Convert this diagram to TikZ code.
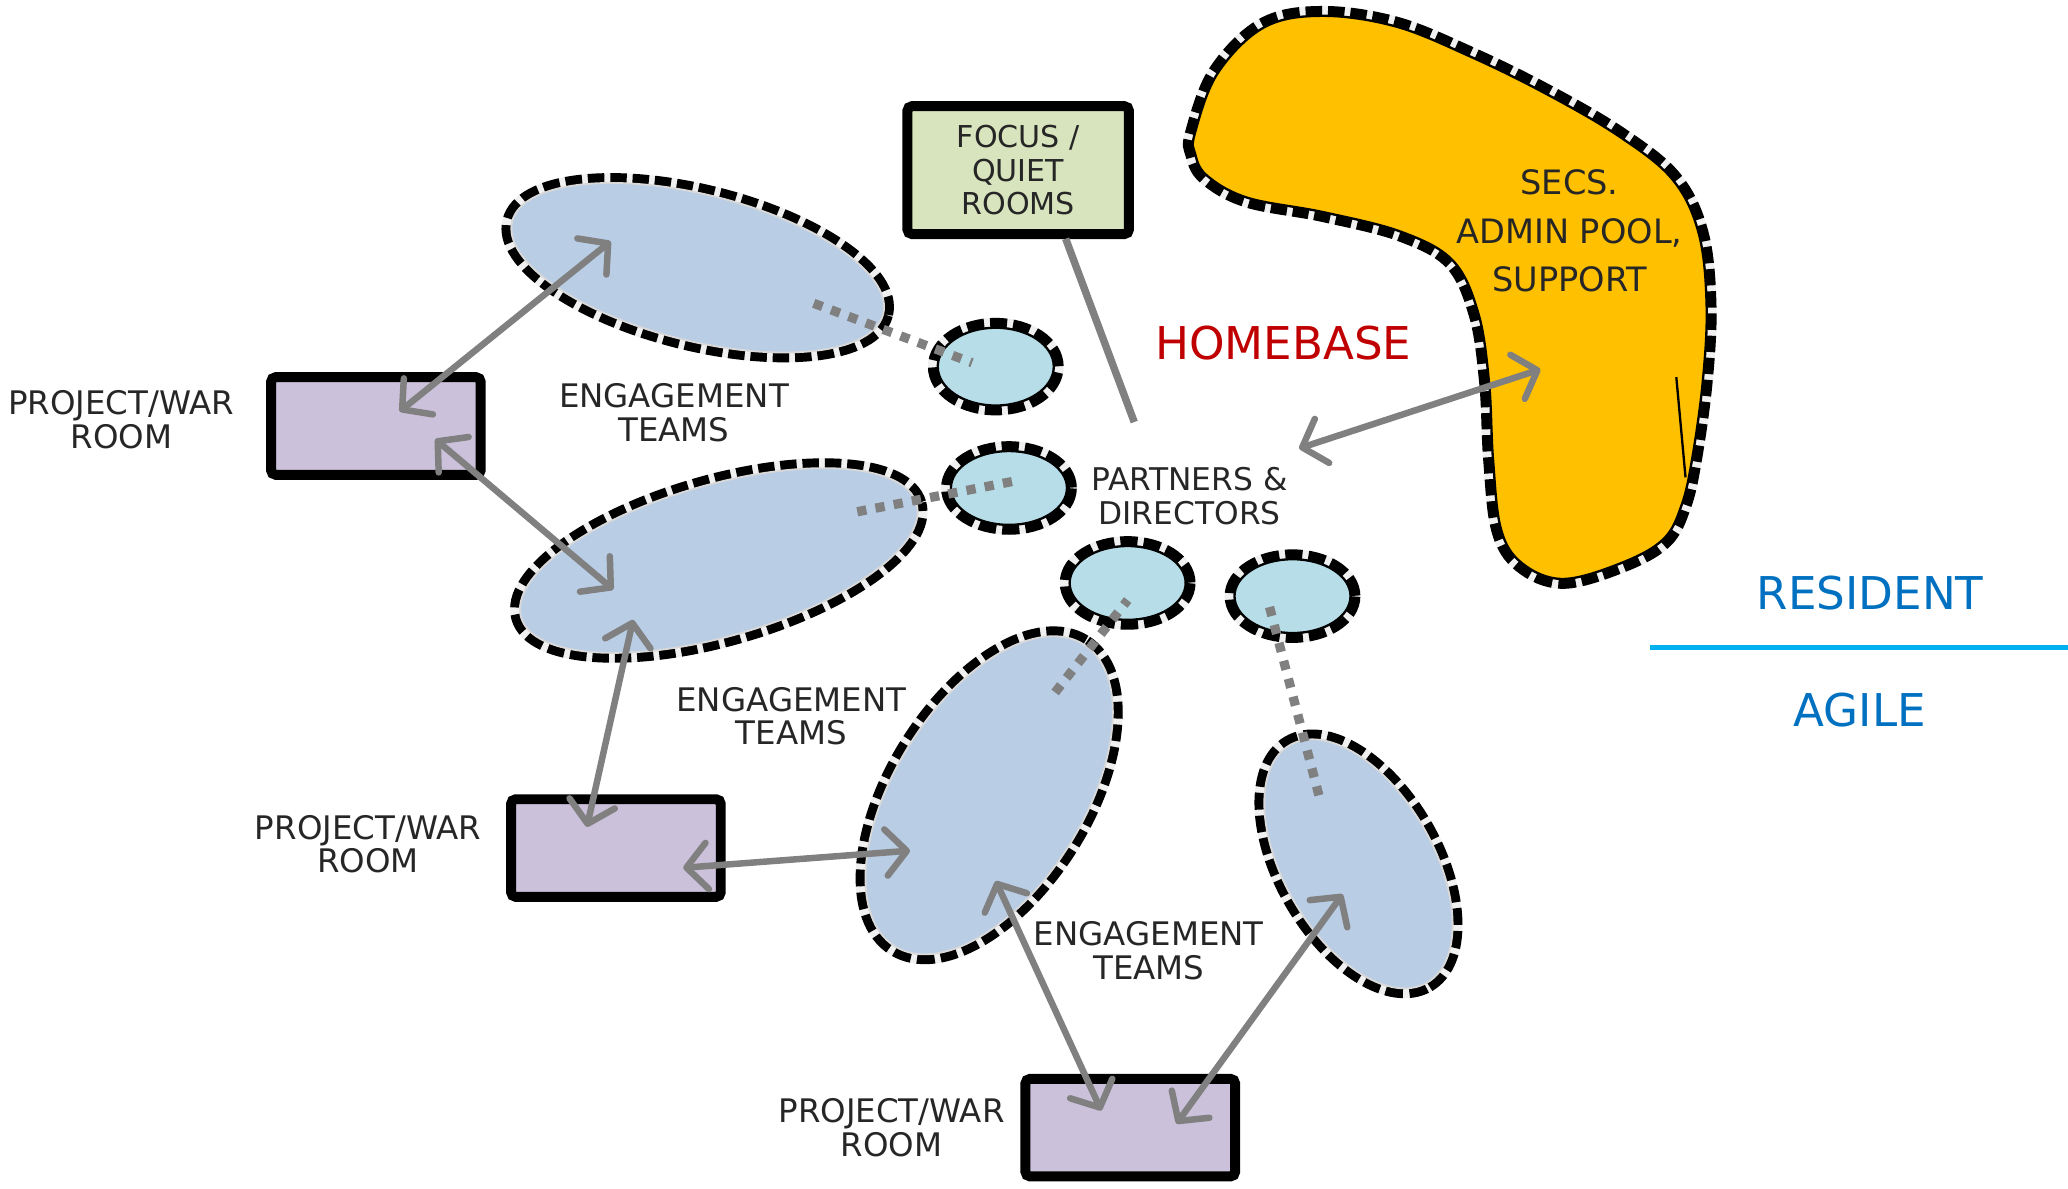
\documentclass[tikz,border=0pt]{standalone}
\usepackage{fontspec}
\setmainfont{DejaVu Sans}
\usetikzlibrary{shapes.geometric,arrows.meta,positioning}

\definecolor{teamblue}{RGB}{185,205,229}
\definecolor{partnerblue}{RGB}{183,222,232}
\definecolor{roompurple}{RGB}{204,193,218}
\definecolor{quietgreen}{RGB}{215,228,189}
\definecolor{adminyellow}{RGB}{255,192,0}
\definecolor{linkgrey}{RGB}{128,128,128}
\definecolor{homered}{RGB}{192,0,0}
\definecolor{zoneblue}{RGB}{0,112,192}
\definecolor{dividercyan}{RGB}{0,176,240}
\definecolor{inktext}{RGB}{38,38,38}

\begin{document}
\begin{tikzpicture}[
  x=0.02cm, y=-0.02cm,
  sketch/.style={preaction={draw=black!6, line width=8.5pt},
                 preaction={draw=black, line width=8.5pt, dash pattern=on 7pt off 2.5pt}},
  team/.style={ellipse, sketch, fill=teamblue, draw=black!15, line width=0.8pt, inner sep=0pt},
  partner/.style={ellipse, sketch, fill=partnerblue, draw=black, line width=1pt, inner sep=0pt,
                  minimum width=1.76cm, minimum height=1.12cm},
  warroom/.style={rectangle, rounded corners=2pt, draw=black, line width=4.3pt, fill=roompurple,
                  minimum width=3.18cm, minimum height=1.48cm},
  lbl/.style={align=center, text=inktext, font=\fontsize{14}{14.5}\selectfont},
  zone/.style={text=zoneblue, font=\fontsize{19.5}{20}\selectfont},
  link/.style={{Straight Barb[length=9pt,width=20pt,round]}-{Straight Barb[length=9pt,width=20pt,round]},
               line width=2.8pt, draw=linkgrey},
  tie/.style={draw=linkgrey, line width=4pt, dash pattern=on 4pt off 4pt},
]
\useasboundingbox (0,0) rectangle (1568,901);

%% admin pool blob
\draw[sketch, fill=adminyellow, draw=black, line width=1pt]
  plot[smooth cycle, tension=0.6] coordinates {
    (906,101) (923,56) (958,21) (1002,12) (1058,20) (1115,43) (1172,71)
    (1227,103) (1268,136) (1288,177) (1294,232) (1291,290) (1283,348)
    (1275,383) (1261,409) (1229,427) (1185,439) (1154,427) (1138,401)
    (1132,348) (1129,290) (1121,238) (1102,198) (1063,176) (1004,161)
    (946,150) (915,133) (906,116)};
\draw[line width=1pt] (1271,286) -- (1278,362);
\node[lbl, font=\fontsize{14.5}{21}\selectfont] (admin) at (1190,175) {SECS.\\ADMIN POOL,\\SUPPORT};

%% engagement teams
\node[team, minimum width=5.8cm,  minimum height=2.22cm, rotate=-14] (e1) at (529,203) {};
\node[team, minimum width=6.24cm, minimum height=2.3cm,  rotate=16]  (e2) at (545,425) {};
\node[team, minimum width=5.4cm,  minimum height=2.86cm, rotate=58]  (e3) at (750,603) {};
\node[team, minimum width=4.16cm, minimum height=2.26cm, rotate=-60] (e4) at (1030,655) {};

%% partners & directors
\node[partner, minimum height=1.18cm] (c1) at (755,278) {};
\node[partner] (c2) at (765,370) {};
\node[partner] (c3) at (855,442) {};
\node[partner] (c4) at (980,452) {};

%% rooms
\node[warroom] (r1) at (285,323) {};
\node[warroom] (r2) at (467,643) {};
\node[warroom] (r3) at (857,855) {};
\node[rectangle, draw=black, line width=4.3pt, fill=quietgreen, rounded corners=2pt,
      minimum width=3.36cm, minimum height=1.94cm, lbl, font=\fontsize{13}{14.5}\selectfont]
      (focus) at (772,129) {FOCUS /\\QUIET\\ROOMS};

%% texts
\node[lbl] (war1) at (92,318)  {PROJECT/WAR\\ROOM};
\node[lbl] (war2) at (279,640) {PROJECT/WAR\\ROOM};
\node[lbl] (war3) at (676,855) {PROJECT/WAR\\ROOM};
\node[lbl] (teams1) at (511,313) {ENGAGEMENT\\TEAMS};
\node[lbl] (teams2) at (600,543) {ENGAGEMENT\\TEAMS};
\node[lbl] (teams3) at (871,721) {ENGAGEMENT\\TEAMS};
\node[lbl, font=\fontsize{13.5}{14.5}\selectfont] (pd) at (902,376) {PARTNERS \&\\DIRECTORS};
\node[text=homered, font=\fontsize{19.5}{20}\selectfont] (home) at (973,260) {HOMEBASE};
\node[zone] (resident) at (1418,450) {RESIDENT};
\node[zone] (agile) at (1410,538) {AGILE};
\coordinate (divl) at (1251,491);
\coordinate (divr) at (1568,491);
\draw[dividercyan, line width=2.3pt] (divl) -- (divr);

%% dotted ties to partners
\draw[tie] ([shift={(88,27)}]e1.center)   -- ([shift={(-18,-3)}]c1.center);
\draw[tie] ([shift={(105,-37)}]e2.center) -- ([shift={(3,-5)}]c2.center);
\draw[tie] ([shift={(50,-78)}]e3.center)  -- ([shift={(0,13)}]c3.center);
\draw[tie] ([shift={(-30,-52)}]e4.center) -- ([shift={(-18,6)}]c4.center);

%% links
\draw[linkgrey, line width=3.2pt] ([shift={(36,52)}]focus.center) -- ([shift={(-42,-56)}]pd.center);
\draw[link] ([shift={(18,-11)}]r1.center) -- ([shift={(-66,-20)}]e1.center);
\draw[link] ([shift={(45,10)}]r1.center)  -- ([shift={(-80,22)}]e2.center);
\draw[link] ([shift={(-65,45)}]e2.center) -- ([shift={(-22,-16)}]r2.center);
\draw[link] ([shift={(51,15)}]r2.center)  -- ([shift={(-60,42)}]e3.center);
\draw[link] ([shift={(5,65)}]e3.center)   -- ([shift={(-22,-13)}]r3.center);
\draw[link] ([shift={(35,-3)}]r3.center)  -- ([shift={(-12,23)}]e4.center);
\draw[link] ([shift={(83,-36)}]pd.center) -- ([shift={(-22,105)}]admin.center);
\end{tikzpicture}
\end{document}
